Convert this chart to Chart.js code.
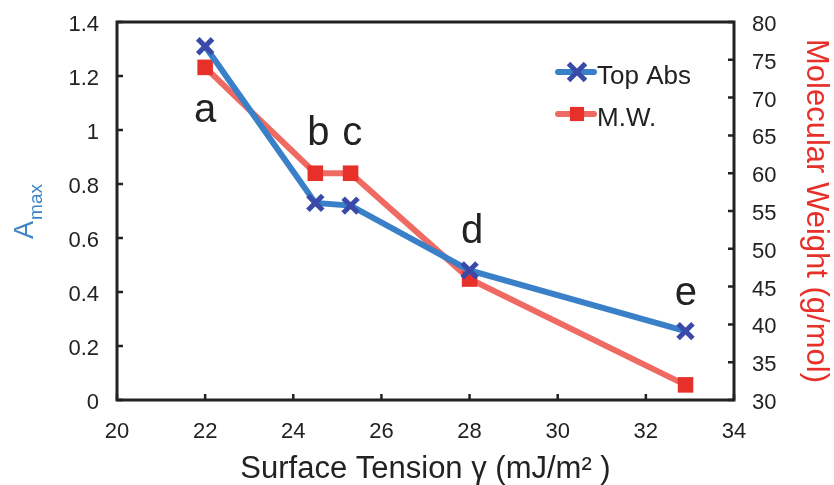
<!DOCTYPE html>
<html>
<head>
<meta charset="utf-8">
<script src="https://cdn.jsdelivr.net/npm/chart.js@4.4.0/dist/chart.umd.min.js"></script>
<style>
  html, body { margin: 0; padding: 0; background: #fff; }
  #wrap { width: 834px; height: 485px; }
</style>
</head>
<body>
<div id="wrap"><canvas id="chart" width="834" height="485"></canvas></div>
<script>
// data
const tension = [22, 24.5, 25.3, 28, 32.9];
const topAbs = [1.31, 0.73, 0.72, 0.48, 0.255];
const molWeight = [74, 60, 60, 46, 32];
const sampleNames = ['a', 'b', 'c', 'd', 'e'];
const sampleLabelX = [22, 24.57, 25.34, 28.06, 32.91];
const sampleLabelY = [1.03, 0.944, 0.944, 0.581, 0.352]; // baseline, in A_max units

const FONT = '"Liberation Sans", Arial, Helvetica, sans-serif';
const INK = '#222';
const BLUE_LINE = '#3a80c8';
const BLUE_MARK = '#3a4aa8';
const RED_LINE = '#ef6a62';
const RED_MARK = '#e8302a';

const pts = (xs, ys) => xs.map((x, i) => ({ x: x, y: ys[i] }));

// keep the plot box where the figure has it
function fixSize(prop, val) {
    return function (s) {
        s[prop] = val;
        s.paddingTop = 0;
        s.paddingBottom = 0;
        s.paddingLeft = 0;
        s.paddingRight = 0;
    };
}

// frame, inward ticks, letters, legend, left title
const decor = {
    id: 'decor',
    afterDatasetsDraw(chart) {
        const ctx = chart.ctx;
        const a = chart.chartArea;
        const sx = chart.scales.x, yl = chart.scales.y, yr = chart.scales.y2;
        ctx.save();
        ctx.strokeStyle = INK;
        ctx.lineWidth = 3;
        ctx.strokeRect(a.left, a.top, a.right - a.left, a.bottom - a.top);

        ctx.lineWidth = 2.5;
        ctx.beginPath();
        sx.ticks.forEach(t => {
            const px = sx.getPixelForValue(t.value);
            ctx.moveTo(px, a.bottom);
            ctx.lineTo(px, a.bottom - 6);
        });
        yl.ticks.forEach(t => {
            const py = yl.getPixelForValue(t.value);
            ctx.moveTo(a.left, py);
            ctx.lineTo(a.left + 6, py);
        });
        yr.ticks.forEach(t => {
            const py = yr.getPixelForValue(t.value);
            ctx.moveTo(a.right, py);
            ctx.lineTo(a.right - 6, py);
        });
        ctx.stroke();

        // sample letters
        ctx.fillStyle = INK;
        ctx.font = '40px ' + FONT;
        ctx.textAlign = 'center';
        ctx.textBaseline = 'alphabetic';
        sampleNames.forEach((s, i) => {
            ctx.fillText(s, sx.getPixelForValue(sampleLabelX[i]), yl.getPixelForValue(sampleLabelY[i]));
        });

        // legend
        const items = [
            { text: 'Top Abs', line: BLUE_LINE, mark: BLUE_MARK, style: 'crossRot', r: 12, y: 72 },
            { text: 'M.W.', line: RED_LINE, mark: RED_MARK, style: 'rect', r: 10, y: 114 }
        ];
        items.forEach(it => {
            ctx.strokeStyle = it.line;
            ctx.lineWidth = 6;
            ctx.lineCap = 'round';
            ctx.beginPath();
            ctx.moveTo(558, it.y);
            ctx.lineTo(594, it.y);
            ctx.stroke();
            ctx.lineCap = 'butt';
            ctx.fillStyle = it.mark;
            ctx.strokeStyle = it.mark;
            ctx.lineWidth = 5;
            Chart.helpers.drawPoint(ctx, { pointStyle: it.style, radius: it.r, borderWidth: it.style === 'rect' ? 0 : 5 }, 577, it.y);
            ctx.fillStyle = INK;
            ctx.font = '26px ' + FONT;
            ctx.textAlign = 'left';
            ctx.textBaseline = 'middle';
            ctx.fillText(it.text, 597, it.y + 5);
        });

        // left axis title A_max (rotated)
        ctx.translate(24, (a.top + a.bottom) / 2 + 1);
        ctx.rotate(-Math.PI / 2);
        ctx.fillStyle = '#3d85c6';
        ctx.textBaseline = 'alphabetic';
        ctx.textAlign = 'left';
        ctx.font = '27px ' + FONT;
        const wA = ctx.measureText('A').width;
        ctx.font = '19px ' + FONT;
        const wM = ctx.measureText('max').width;
        const x0 = -(wA + wM) / 2;
        ctx.font = '27px ' + FONT;
        ctx.fillText('A', x0, 9);
        ctx.font = '19px ' + FONT;
        ctx.fillText('max', x0 + wA + 1, 18);
        ctx.restore();
    }
};

new Chart(document.getElementById('chart'), {
    type: 'line',
    data: {
        datasets: [
            {
                label: 'Top Abs',
                data: pts(tension, topAbs),
                yAxisID: 'y',
                borderColor: BLUE_LINE,
                borderWidth: 6,
                pointStyle: 'crossRot',
                pointRadius: 10.5,
                pointBorderWidth: 5,
                pointBorderColor: BLUE_MARK,
                pointBackgroundColor: BLUE_MARK,
                tension: 0
            },
            {
                label: 'M.W.',
                data: pts(tension, molWeight),
                yAxisID: 'y2',
                borderColor: RED_LINE,
                borderWidth: 6,
                pointStyle: 'rect',
                pointRadius: 11,
                pointBorderWidth: 0,
                pointBackgroundColor: RED_MARK,
                tension: 0
            }
        ]
    },
    options: {
        responsive: false,
        animation: false,
        layout: { padding: { top: 22, left: 0, right: 0, bottom: 0 } },
        plugins: { legend: { display: false }, tooltip: { enabled: false } },
        scales: {
            x: {
                type: 'linear',
                min: 20, max: 34,
                ticks: { stepSize: 2, color: INK, font: { family: FONT, size: 22 }, padding: 19, maxRotation: 0 },
                grid: { display: false, drawTicks: false },
                border: { display: false },
                title: { display: true, text: 'Surface Tension γ (mJ/m² )', color: INK, font: { family: FONT, size: 31 }, padding: { top: 0, bottom: -3 } },
                afterFit: fixSize('height', 85)
            },
            y: {
                position: 'left',
                min: 0, max: 1.4,
                ticks: { stepSize: 0.2, color: INK, font: { family: FONT, size: 22 }, padding: 18, labelOffset: 3,
                    callback: v => Math.round(v * 10) / 10 },
                grid: { display: false, drawTicks: false },
                border: { display: false },
                afterFit: fixSize('width', 117)
            },
            y2: {
                position: 'right',
                min: 30, max: 80,
                ticks: { stepSize: 5, color: INK, font: { family: FONT, size: 22 }, padding: 18, labelOffset: 3 },
                grid: { display: false, drawTicks: false },
                border: { display: false },
                title: { display: true, text: 'Molecular Weight (g/mol)', color: RED_MARK, font: { family: FONT, size: 31 }, padding: 0 },
                afterFit: fixSize('width', 100)
            }
        }
    },
    plugins: [decor]
});
</script>
</body>
</html>
